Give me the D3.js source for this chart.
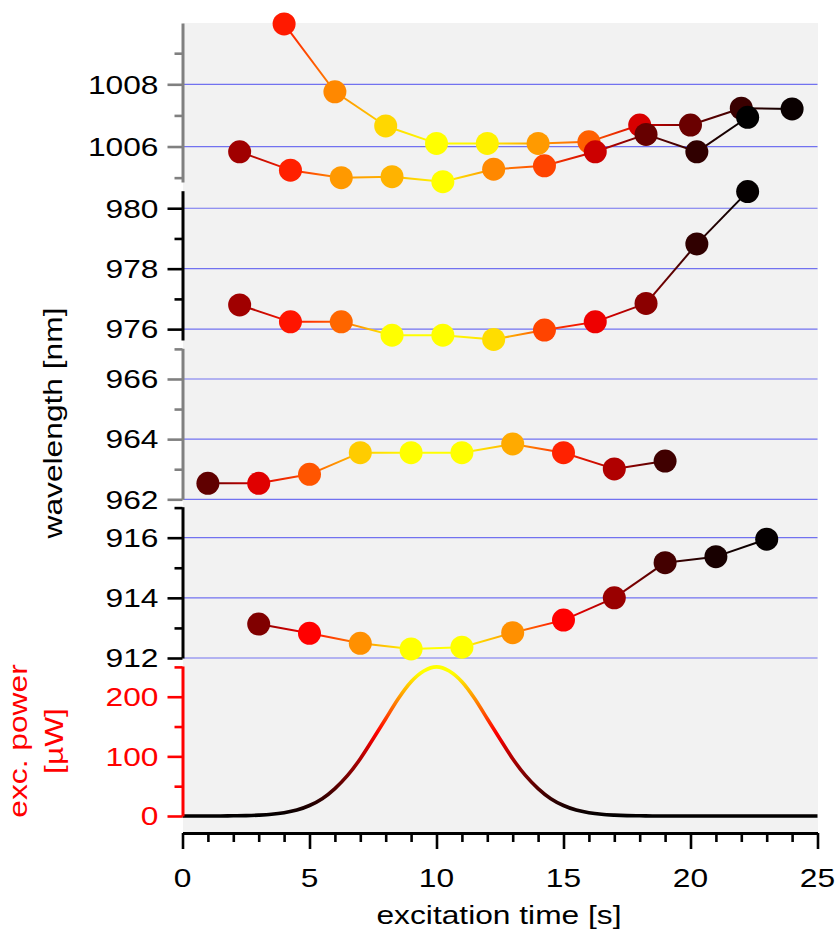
<!DOCTYPE html>
<html><head><meta charset="utf-8">
<script src="https://cdn.jsdelivr.net/npm/d3@7"></script>
<style>
html,body{margin:0;padding:0;background:#fff;}
svg{display:block;font-family:"Liberation Sans",Arial,Helvetica,sans-serif;}
</style></head>
<body><svg id="chart" width="836" height="930"></svg>
<script>
// ---------------- data ----------------
const timeMajorTicks = [0, 5, 10, 15, 20, 25];
const timeMinorTicks = [1,2,3,4,6,7,8,9,11,12,13,14,16,17,18,19,21,22,23,24];

// panel 1 (top, ~1006 nm) two series
const p1aTime = [4, 6, 8, 10, 12, 14, 16, 18, 20, 22, 24];
const p1aWl   = [1009.94, 1007.76, 1006.66, 1006.10, 1006.10, 1006.10, 1006.15, 1006.69, 1006.69, 1007.23, 1007.21];
const p1aCol  = ["#ff1a00","#ff8800","#ffd700","#ffff00","#fff200","#ff9a00","#ff6000","#d80000","#6a0000","#3a0000","#0a0000"];
const p1bTime = [2.25, 4.25, 6.25, 8.25, 10.25, 12.25, 14.25, 16.25, 18.25, 20.25, 22.25];
const p1bWl   = [1005.83, 1005.24, 1005.00, 1005.03, 1004.87, 1005.27, 1005.38, 1005.83, 1006.39, 1005.83, 1006.94];
const p1bCol  = ["#a00000","#ff2000","#ff9900","#ffb300","#ffff00","#ff8800","#ff4400","#cc0000","#660000","#300000","#000000"];
const p1Major = [1006, 1008];
const p1Minor = [1005, 1007, 1009];
const p1Domain = [1004.86, 1009.97];

// panel 2 (~976-980 nm)
const p2Time = [2.25, 4.25, 6.25, 8.25, 10.25, 12.25, 14.25, 16.25, 18.25, 20.25, 22.25];
const p2Wl   = [976.80, 976.24, 976.24, 975.80, 975.80, 975.66, 975.97, 976.24, 976.85, 978.82, 980.55];
const p2Col  = ["#a00000","#ff1500","#ff6600","#ffff00","#ffff00","#ffdd00","#ff4400","#ee0000","#8b0000","#300000","#050000"];
const p2Major = [976, 978, 980];
const p2Minor = [977, 979];
const p2Domain = [975.64, 980.58];

// panel 3 (~962-966 nm)
const p3Time = [1, 3, 5, 7, 9, 11, 13, 15, 17, 19];
const p3Wl   = [962.53, 962.53, 962.83, 963.55, 963.55, 963.55, 963.84, 963.55, 963.01, 963.27];
const p3Col  = ["#600000","#e00000","#ff5500","#ffcc00","#ffff00","#ffff00","#ffaa00","#ff2200","#b00000","#400000"];
const p3Major = [962, 964, 966];
const p3Minor = [963, 965, 967];
const p3Domain = [962, 967.02];

// panel 4 (~912-916 nm)
const p4Time = [3, 5, 7, 9, 11, 13, 15, 17, 19, 21, 23];
const p4Wl   = [913.13, 912.82, 912.49, 912.30, 912.36, 912.84, 913.26, 914.00, 915.17, 915.37, 915.95];
const p4Col  = ["#800000","#ff0000","#ff9000","#ffff00","#ffff00","#ff9000","#ff0000","#990000","#440000","#180000","#050000"];
const p4Major = [912, 914, 916];
const p4Minor = [913, 915, 917];
const p4Domain = [912, 917.03];

// excitation power
const powerTime = [0,0.5,1,1.5,2,2.5,3,3.5,4,4.5,5,5.5,6,6.5,7,7.5,8,8.5,9,9.5,10,
                   10.5,11,11.5,12,12.5,13,13.5,14,14.5,15,15.5,16,16.5,17,17.5,18,18.5,19,19.5,20,
                   20.5,21,21.5,22,22.5,23,23.5,24,24.5,25];
const powerVal  = [0,0,0,0.1,0.3,0.6,1.4,2.8,5.5,10,17.6,29,46,68,96,129,163,197,225,243,250,
                   243,225,197,163,129,96,68,46,29,17.6,10,5.5,2.8,1.4,0.6,0.3,0.1,0,0,0,
                   0,0,0,0,0,0,0,0,0,0];
const powerMajor = [0, 100, 200];
const powerMinor = [50, 150, 250];
const powerDomain = [0, 251.5];

// ---------------- drawing ----------------
const svg = d3.select("#chart");
const defs = svg.append("defs");
const FS = 26, STRETCH = 1.22;
const x = d3.scaleLinear().domain([0, 25]).range([182.5, 817.5]);

const panels = [
  {domain: p1Domain, range: [182, 23], color: "#808080", major: p1Major, minor: p1Minor,
   series: [{t: p1aTime, v: p1aWl, c: p1aCol}, {t: p1bTime, v: p1bWl, c: p1bCol}]},
  {domain: p2Domain, range: [340, 190.7], color: "#000000", major: p2Major, minor: p2Minor,
   series: [{t: p2Time, v: p2Wl, c: p2Col}]},
  {domain: p3Domain, range: [499.3, 348.3], color: "#808080", major: p3Major, minor: p3Minor,
   series: [{t: p3Time, v: p3Wl, c: p3Col}]},
  {domain: p4Domain, range: [658, 506.7], color: "#000000", major: p4Major, minor: p4Minor,
   series: [{t: p4Time, v: p4Wl, c: p4Col}]}
];
const py = d3.scaleLinear().domain(powerDomain).range([816, 666]);

// background
svg.append("rect").attr("x", x(0) + 0.5).attr("y", 23)
  .attr("width", x(25) - x(0)).attr("height", 832 - 23).attr("fill", "#f2f2f2");

function stretchedText(str, tx, ty, anchor, fill, rot) {
  const g = svg.append("g").attr("transform",
    `translate(${tx},${ty})${rot ? " rotate(-90)" : ""} scale(${STRETCH},1)`);
  g.append("text").attr("text-anchor", anchor).attr("fill", fill)
    .attr("font-size", FS).text(str);
}

function drawYAxis(scale, color, major, minor, gridColor) {
  if (gridColor) {
    svg.append("g").selectAll("line").data(major).join("line")
      .attr("x1", x(0) + 1).attr("x2", x(25))
      .attr("y1", d => scale(d)).attr("y2", d => scale(d))
      .attr("stroke", gridColor).attr("stroke-width", 1.2);
  }
  const gMaj = svg.append("g").attr("transform", `translate(${x(0)},0)`)
    .call(d3.axisLeft(scale).tickValues(major).tickSize(15).tickSizeOuter(0).tickFormat(""));
  gMaj.select(".domain").attr("stroke", color).attr("stroke-width", 3);
  gMaj.selectAll(".tick line").attr("stroke", color).attr("stroke-width", 2.6);
  const gMin = svg.append("g").attr("transform", `translate(${x(0)},0)`)
    .call(d3.axisLeft(scale).tickValues(minor).tickSize(8).tickSizeOuter(0).tickFormat(""));
  gMin.select(".domain").remove();
  gMin.selectAll(".tick line").attr("stroke", color).attr("stroke-width", 2.6);
  const labelColor = color === "#ff0000" ? "#ff0000" : "#000000";
  major.forEach(v => stretchedText(String(v), 158.5, scale(v) + 9.3, "end", labelColor, false));
}

// power curve with value-dependent colour
const pg = defs.append("linearGradient").attr("id", "powerGrad")
  .attr("gradientUnits", "userSpaceOnUse")
  .attr("x1", 0).attr("x2", 0).attr("y1", py(0)).attr("y2", py(250));
[[0, "#000000"], [0.56, "#ff0000"], [0.96, "#ffff00"], [1, "#ffff00"]].forEach(s =>
  pg.append("stop").attr("offset", s[0]).attr("stop-color", s[1]));
const powerData = powerTime.map((t, i) => ({t, p: powerVal[i]}));
svg.append("path").datum(powerData)
  .attr("d", d3.line().x(d => x(d.t)).y(d => py(d.p)).curve(d3.curveMonotoneX))
  .attr("fill", "none").attr("stroke", "url(#powerGrad)").attr("stroke-width", 3.6);

// axes for panels
panels.forEach(p => {
  p.scale = d3.scaleLinear().domain(p.domain).range(p.range);
  drawYAxis(p.scale, p.color, p.major, p.minor, "#7272f0");
});
drawYAxis(py, "#ff0000", powerMajor, powerMinor, null);

// series
let gid = 0;
panels.forEach(p => {
  p.series.forEach(s => {
    const pts = s.t.map((t, i) => ({x: x(t), y: p.scale(s.v[i]), c: s.c[i]}));
    const g = svg.append("g");
    for (let i = 0; i < pts.length - 1; i++) {
      const a = pts[i], b = pts[i + 1];
      const id = "sg" + (gid++);
      const lg = defs.append("linearGradient").attr("id", id)
        .attr("gradientUnits", "userSpaceOnUse")
        .attr("x1", a.x).attr("y1", a.y).attr("x2", b.x).attr("y2", b.y);
      lg.append("stop").attr("offset", 0).attr("stop-color", a.c);
      lg.append("stop").attr("offset", 1).attr("stop-color", b.c);
      g.append("line").attr("x1", a.x).attr("y1", a.y).attr("x2", b.x).attr("y2", b.y)
        .attr("stroke", `url(#${id})`).attr("stroke-width", 2);
    }
    g.selectAll("circle").data(pts).join("circle")
      .attr("cx", d => d.x).attr("cy", d => d.y).attr("r", 11.5).attr("fill", d => d.c);
  });
});

// x axis
const gx = svg.append("g").attr("transform", "translate(0,833)")
  .call(d3.axisBottom(x).tickValues(timeMajorTicks).tickSize(16).tickSizeOuter(0).tickFormat(""));
gx.select(".domain").attr("stroke", "#000").attr("stroke-width", 3);
gx.selectAll(".tick line").attr("stroke", "#000").attr("stroke-width", 2.6);
const gxm = svg.append("g").attr("transform", "translate(0,833)")
  .call(d3.axisBottom(x).tickValues(timeMinorTicks).tickSize(9).tickSizeOuter(0).tickFormat(""));
gxm.select(".domain").remove();
gxm.selectAll(".tick line").attr("stroke", "#000").attr("stroke-width", 2.6);
timeMajorTicks.forEach(v => stretchedText(String(v), x(v), 887, "middle", "#000", false));

// axis titles
stretchedText("excitation time [s]", 499, 924, "middle", "#000", false);
stretchedText("wavelength [nm]", 62, 423, "middle", "#000", true);
stretchedText("exc. power", 27, 741, "middle", "#ff0000", true);
stretchedText("[µW]", 63, 741, "middle", "#ff0000", true);
</script>
</body></html>
